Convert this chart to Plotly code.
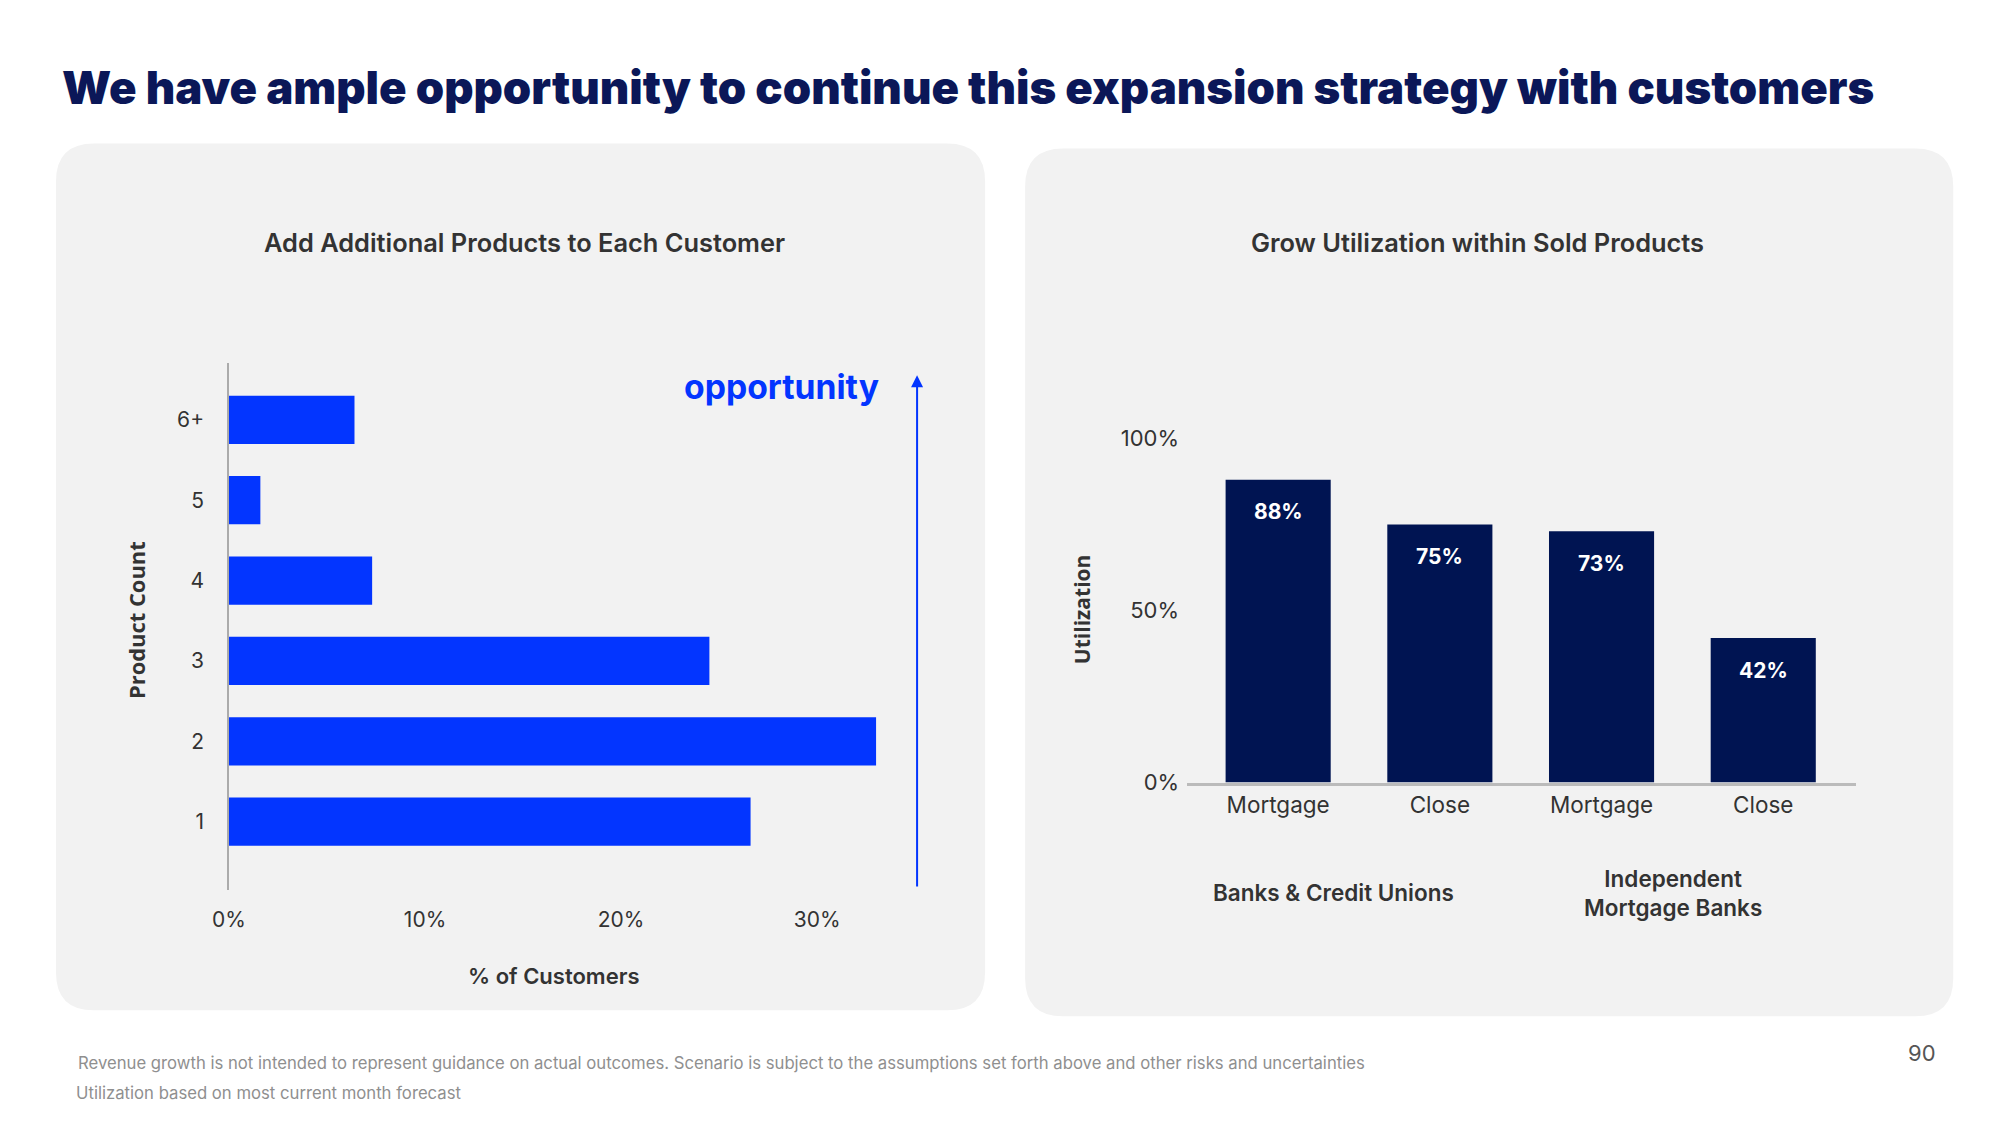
import plotly.graph_objects as go

# Figure sized to sit inside the page's 8px body margin; positions below are
# given in the reference's window pixels and mapped into figure pixels.
PAGE_W, PAGE_H = 2000, 1125
OFF = 8
W, H = PAGE_W - 2 * OFF, PAGE_H - 2 * OFF

# ---------------- data ----------------
product_counts = ["1", "2", "3", "4", "5", "6+"]
pct_customers = [26.6, 33.0, 24.5, 7.3, 1.6, 6.4]
pct_ticks = [0, 10, 20, 30]

util_ids = ["bcu_mortgage", "bcu_close", "imb_mortgage", "imb_close"]
util_labels = ["Mortgage", "Close", "Mortgage", "Close"]
util_values = [88, 75, 73, 42]
util_ticks = [0, 50, 100]
group_labels = ["Banks & Credit Unions", "Independent<br>Mortgage Banks"]

main_title = "We have ample opportunity to continue this expansion strategy with customers"
left_title = "Add Additional Products to Each Customer"
right_title = "Grow Utilization within Sold Products"
footnotes = [
    "Revenue growth is not intended to represent guidance on actual outcomes. Scenario is subject to the assumptions set forth above and other risks and uncertainties",
    "Utilization based on most current month forecast",
]
page_number = "90"

# ---------------- style ----------------
BLUE = "#0335FF"
NAVY = "#001452"
TITLE_NAVY = "#0B1758"
TEXT = "#333333"
PANEL = "#F2F2F2"
FONT = "Inter"

# screen mapping correction (measured)
AX, KX = 17.1, 0.9913
AY, KY = 2.1, 0.985


def mx(x):
    return (x - AX) / KX


def my(y):
    return (y - AY) / KY


def px(x):
    return (mx(x) - OFF) / W


def py(y):
    return 1 - (my(y) - OFF) / H


def rounded_rect(x0, y0, x1, y1, r):
    rx, ry = r / KX / W, r / KY / H
    X0, X1 = px(x0), px(x1)
    Y0, Y1 = py(y0), py(y1)  # Y0 top (larger), Y1 bottom
    return (
        f"M {X0+rx},{Y0} L {X1-rx},{Y0} Q {X1},{Y0} {X1},{Y0-ry} "
        f"L {X1},{Y1+ry} Q {X1},{Y1} {X1-rx},{Y1} "
        f"L {X0+rx},{Y1} Q {X0},{Y1} {X0},{Y1+ry} "
        f"L {X0},{Y0-ry} Q {X0},{Y0} {X0+rx},{Y0} Z"
    )


fig = go.Figure()

fig.add_trace(go.Bar(
    x=pct_customers, y=product_counts, orientation="h", width=0.6,
    marker=dict(color=BLUE, line=dict(width=0)),
    xaxis="x", yaxis="y", hoverinfo="skip", showlegend=False,
))

fig.add_trace(go.Bar(
    x=util_ids, y=util_values, width=0.65,
    marker=dict(color=NAVY, line=dict(width=0)),
    xaxis="x2", yaxis="y2", hoverinfo="skip", showlegend=False,
))

shapes = [
    dict(type="path", path=rounded_rect(56, 145, 985, 1009, 38), xref="paper", yref="paper",
         fillcolor=PANEL, line=dict(width=0), layer="below"),
    dict(type="path", path=rounded_rect(1025, 150, 1953, 1015, 38), xref="paper", yref="paper",
         fillcolor=PANEL, line=dict(width=0), layer="below"),
]


def label(text, x, y, size, color=TEXT, weight=None, family=FONT, xanchor="center", angle=0):
    f = dict(family=family, size=size, color=color)
    if weight:
        f["weight"] = weight
    return dict(text=text, x=px(x), y=py(y), xref="paper", yref="paper",
                xanchor=xanchor, yanchor="middle", textangle=angle,
                showarrow=False, font=f)


arrow_top, arrow_bottom = 376, 881

annotations = [
    label(main_title, 60, 89, 45.5, TITLE_NAVY, 900, xanchor="left"),
    label(left_title, 524, 244, 25.4, TEXT, 600),
    label(right_title, 1477, 244, 25.4, TEXT, 600),
    label("Product Count", 136, 620, 21.9, TEXT, 700, family="Open Sans", angle=-90),
    label("% of Customers", 553, 975, 22, TEXT, 600),
    label("Utilization", 1082, 610, 21, TEXT, 700, family="Open Sans", angle=-90),
    label("opportunity", 881, 387, 33.7, BLUE, 700, xanchor="right"),
    dict(text="", x=px(917), y=py(arrow_top), xref="paper", yref="paper",
         ax=0, ay=my(arrow_bottom) - my(arrow_top), showarrow=True, arrowhead=2,
         arrowsize=1.2, arrowwidth=2, arrowcolor=BLUE),
    label(group_labels[0], 1333, 892, 22.5, TEXT, 600),
    label(group_labels[1], 1673, 892, 22.5, TEXT, 600),
    label(footnotes[0], 76, 1061, 16.7, "#8F8F8F", xanchor="left"),
    label(footnotes[1], 74, 1091, 16.7, "#8F8F8F", xanchor="left"),
    label(page_number, 1938, 1052, 22, "#555555", xanchor="right"),
]

for cid, v in zip(util_ids, util_values):
    annotations.append(dict(
        text=f"{v}%", x=cid, y=v, xref="x2", yref="y2", showarrow=False,
        yanchor="middle", yshift=-32,
        font=dict(family=FONT, size=21, color="white", weight=700),
    ))

U_SCALE = 3.43  # reference px per percentage point
U_TOP = 782 - U_SCALE * 106

fig.update_layout(
    width=W, height=H,
    margin=dict(l=0, r=0, t=0, b=0),
    paper_bgcolor="white", plot_bgcolor="rgba(0,0,0,0)",
    showlegend=False,
    shapes=shapes, annotations=annotations,
    font=dict(family=FONT, color=TEXT),
    xaxis=dict(
        domain=[px(229), px(925)], range=[0, 35.5], anchor="y",
        tickvals=pct_ticks, ticktext=[f"{v}%" for v in pct_ticks],
        showgrid=False, zeroline=False, showline=False, ticks="",
        ticklabelstandoff=15,
        tickfont=dict(family=FONT, size=21, color=TEXT), fixedrange=True,
    ),
    yaxis=dict(
        domain=[py(889), py(364)], type="category", categoryorder="array",
        categoryarray=product_counts, range=[-0.85, 5.705], anchor="x",
        showgrid=False, zeroline=False, showline=True, linecolor="#ABABAB",
        linewidth=1.5, ticks="", ticklabelstandoff=19,
        tickfont=dict(family=FONT, size=21, color=TEXT), fixedrange=True,
    ),
    xaxis2=dict(
        domain=[px(1187), px(1856)], type="category", categoryorder="array",
        categoryarray=util_ids, range=[-0.563, 3.575], anchor="y2",
        tickvals=util_ids, ticktext=util_labels,
        showgrid=False, zeroline=False, showline=True, linecolor="#BBBBBB",
        linewidth=3, ticks="", ticklabelstandoff=0,
        tickfont=dict(family=FONT, size=22.5, color=TEXT), fixedrange=True,
    ),
    yaxis2=dict(
        domain=[py(782), py(U_TOP)], range=[0, 106], anchor="x2",
        tickvals=util_ticks, ticktext=[f"{v}%" for v in util_ticks],
        showgrid=False, zeroline=False, showline=False, ticks="",
        ticklabelstandoff=7,
        tickfont=dict(family=FONT, size=22, color=TEXT), fixedrange=True,
    ),
)

fig.write_html("out.html")
